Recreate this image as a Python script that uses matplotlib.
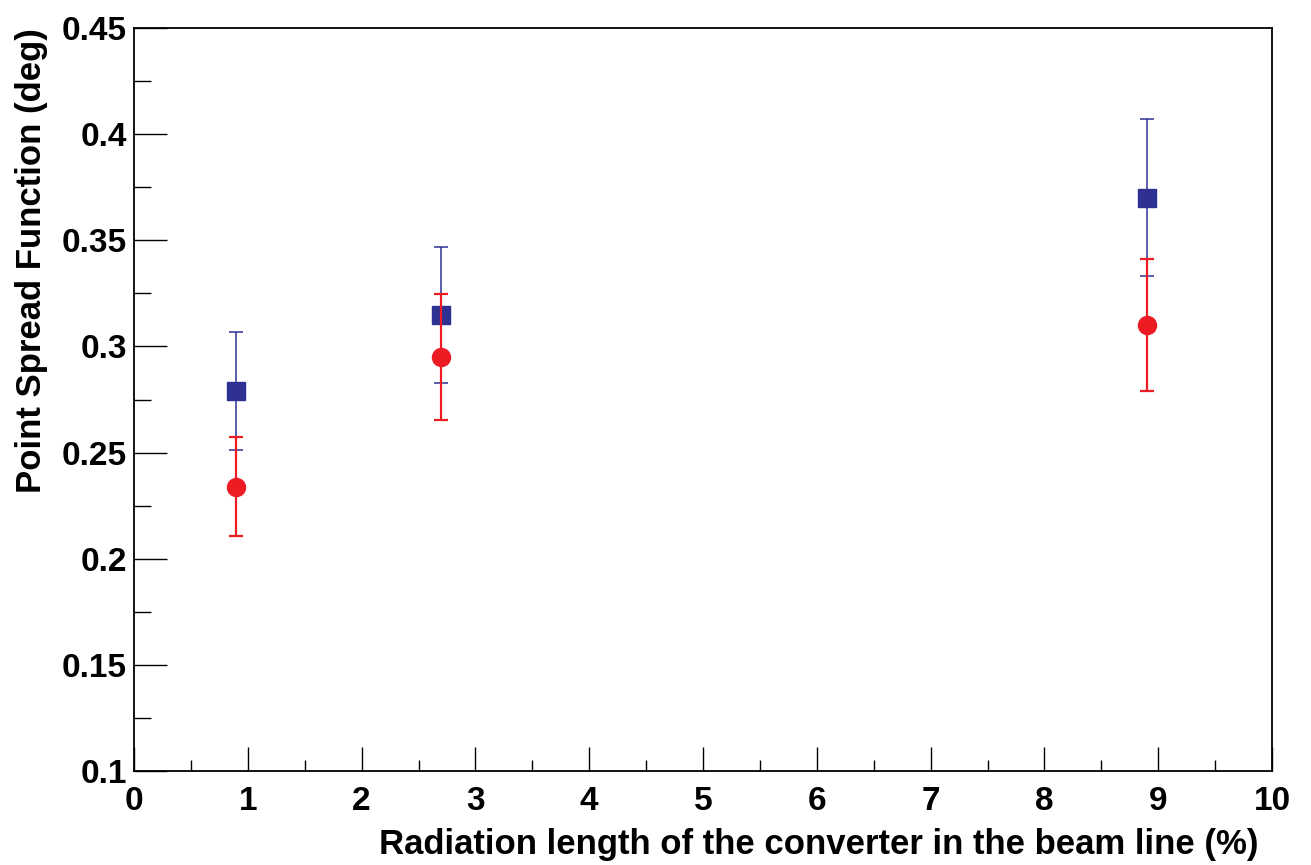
import matplotlib
matplotlib.use("Agg")
import matplotlib.pyplot as plt
from matplotlib.ticker import MultipleLocator

plt.rcParams['font.family'] = ['Liberation Sans', 'DejaVu Sans']
plt.rcParams['font.weight'] = 'bold'

x_vals = [0.9, 2.7, 8.9]
blue_y = [0.279, 0.315, 0.370]
blue_err = [0.028, 0.032, 0.037]
red_y = [0.234, 0.295, 0.310]
red_err = [0.0235, 0.0295, 0.031]

blue = '#2e3192'
red = '#ed1c24'

fig = plt.figure(figsize=(13.11, 8.65), dpi=100)
ax = fig.add_axes([0.1022, 0.1087, 0.9703 - 0.1022, 0.9676 - 0.1087])

ax.errorbar(x_vals, blue_y, yerr=blue_err, fmt='s', color=blue, ecolor=blue,
            elinewidth=1.1, capsize=5, capthick=1.1, markersize=13, zorder=3)
ax.errorbar(x_vals, red_y, yerr=red_err, fmt='o', color=red, ecolor=red,
            elinewidth=1.6, capsize=5, capthick=1.6, markersize=13, zorder=4)

ax.set_xlim(0, 10)
ax.set_ylim(0.1, 0.45)
ax.xaxis.set_major_locator(MultipleLocator(1))
ax.xaxis.set_minor_locator(MultipleLocator(0.5))
ax.yaxis.set_minor_locator(MultipleLocator(0.025))
ax.set_yticks([0.1, 0.15, 0.2, 0.25, 0.3, 0.35, 0.4, 0.45])
ax.set_yticklabels(['0.1', '0.15', '0.2', '0.25', '0.3', '0.35', '0.4', '0.45'])

for s in ['top', 'right', 'left', 'bottom']:
    ax.spines[s].set_linewidth(1.3)

ax.tick_params(axis='y', which='major', direction='in', length=24, width=1.0, labelsize=24, pad=5)
ax.tick_params(axis='y', which='minor', direction='in', length=12, width=1.0)
ax.tick_params(axis='x', which='major', direction='in', length=17, width=1.0, labelsize=24, pad=11)
ax.tick_params(axis='x', which='minor', direction='in', length=8, width=1.0)
for lab in ax.get_xticklabels() + ax.get_yticklabels():
    lab.set_fontweight('bold')

ax.set_xlabel('Radiation length of the converter in the beam line (%)', fontsize=25,
              fontweight='bold', loc='right')
ax.xaxis.set_label_coords(0.9885, -0.077)
ax.set_ylabel('Point Spread Function (deg)', fontsize=25, fontweight='bold',
              loc='top', labelpad=10)

fig.savefig('out.png', dpi=100)
